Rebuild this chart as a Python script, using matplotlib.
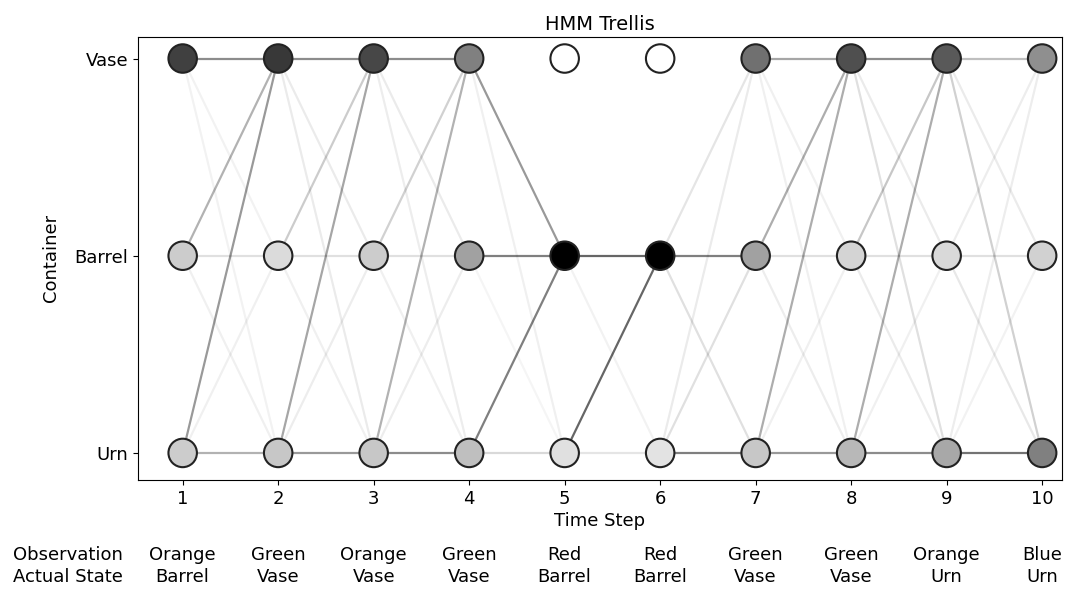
import numpy as np
import matplotlib.pyplot as plt
import matplotlib.transforms as mtransforms

plt.rcParams["font.size"] = 13

# hidden states, bottom to top
states = ["Urn", "Barrel", "Vase"]
time_steps = np.arange(1, 11)

observations = ["Orange", "Green", "Orange", "Green", "Red",
                "Red", "Green", "Green", "Orange", "Blue"]
actual_states = ["Barrel", "Vase", "Vase", "Vase", "Barrel",
                 "Barrel", "Vase", "Vase", "Urn", "Urn"]

# node shading (0 = white, 1 = black), one row per state
shade_urn = [0.20, 0.22, 0.22, 0.25, 0.12, 0.11, 0.22, 0.28, 0.34, 0.50]
shade_barrel = [0.20, 0.14, 0.20, 0.37, 1.00, 1.00, 0.37, 0.17, 0.15, 0.18]
shade_vase = [0.75, 0.78, 0.72, 0.50, 0.00, 0.00, 0.56, 0.69, 0.65, 0.44]

# edge weights between consecutive steps: [from][to], order Urn, Barrel, Vase
edge_weights = [
    [[0.30, 0.06, 0.40], [0.06, 0.12, 0.30], [0.05, 0.05, 0.45]],
    [[0.40, 0.07, 0.35], [0.06, 0.12, 0.20], [0.08, 0.08, 0.45]],
    [[0.45, 0.07, 0.30], [0.06, 0.12, 0.18], [0.07, 0.08, 0.45]],
    [[0.15, 0.50, 0.00], [0.04, 0.50, 0.00], [0.06, 0.40, 0.00]],
    [[0.10, 0.60, 0.00], [0.05, 0.60, 0.00], [0.00, 0.00, 0.00]],
    [[0.50, 0.12, 0.08], [0.12, 0.50, 0.10], [0.00, 0.00, 0.00]],
    [[0.40, 0.06, 0.32], [0.07, 0.12, 0.32], [0.06, 0.06, 0.35]],
    [[0.45, 0.06, 0.32], [0.08, 0.12, 0.22], [0.12, 0.08, 0.45]],
    [[0.55, 0.05, 0.07], [0.09, 0.12, 0.07], [0.18, 0.08, 0.25]],
]

fig = plt.figure(figsize=(10.85, 5.94), dpi=100)
ax = fig.add_axes([0.127, 0.192, 0.852, 0.746])

# transitions
for k, w in enumerate(edge_weights):
    t0, t1 = time_steps[k], time_steps[k + 1]
    for i in range(3):
        for j in range(3):
            if w[i][j] > 0:
                ax.plot([t0, t1], [i, j], color="black", alpha=w[i][j],
                        lw=1.6, zorder=1)

# state nodes
shades = [shade_urn, shade_barrel, shade_vase]
for s, row in enumerate(shades):
    colors = [str(1 - v) for v in row]
    ax.scatter(time_steps, [s] * len(time_steps), s=420, c=colors,
               edgecolors="#222222", linewidths=1.5, zorder=3)

ax.set_xlim(0.53, 10.21)
ax.set_ylim(-0.137, 2.11)
ax.set_xticks(time_steps)
ax.set_yticks(range(3))
ax.set_yticklabels(states)
ax.set_xlabel("Time Step", labelpad=3)
ax.set_ylabel("Container", labelpad=10)
ax.set_title("HMM Trellis", fontsize=14, pad=5)

# observation / actual state rows under the axis
trans = mtransforms.blended_transform_factory(ax.transData, ax.transAxes)
for t, obs, st in zip(time_steps, observations, actual_states):
    ax.text(t, -0.148, f"{obs}\n{st}", transform=trans, ha="center",
            va="top", linespacing=1.3)
ax.text(-0.2, -0.148, "Observation\nActual State", transform=trans,
        ha="center", va="top", linespacing=1.3)

fig.savefig("out.png", dpi=100)
